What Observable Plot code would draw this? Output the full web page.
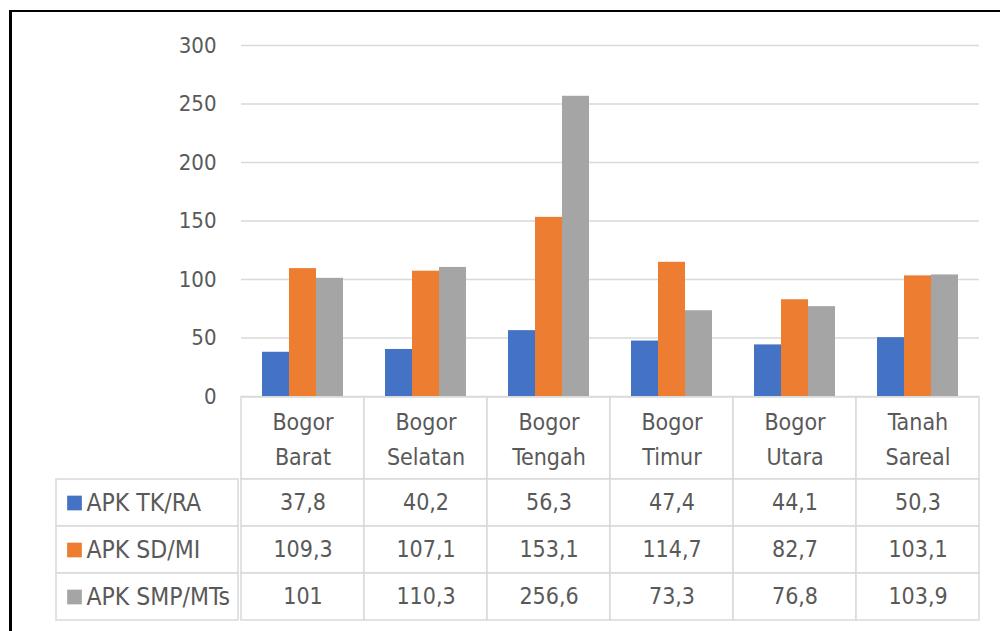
<!DOCTYPE html>
<html>
<head>
<meta charset="utf-8">
<script src="https://cdn.jsdelivr.net/npm/d3@7"></script>
<script src="https://cdn.jsdelivr.net/npm/@observablehq/plot@0.6"></script>
<style>
  html, body { margin: 0; padding: 0; background: #fff; width: 1000px; height: 631px; overflow: hidden; }
  #wrap { position: relative; width: 1000px; height: 631px; }
  #frame { position: absolute; left: 8.5px; top: 10px; width: 1100px; height: 700px; border-left: 3px solid #000; border-top: 2.5px solid #000; box-sizing: border-box; }
  .part { position: absolute; }
  svg { overflow: visible; }
</style>
</head>
<body>
<div id="wrap">
  <div id="frame"></div>
  <div class="part" id="chart" style="left:0;top:0"></div>
  <div class="part" id="header" style="left:238px;top:396px"></div>
  <div class="part" id="legend" style="left:0;top:478px"></div>
  <div class="part" id="rows" style="left:238px;top:478px"></div>
</div>
<script>
const categories = ["Bogor Barat", "Bogor Selatan", "Bogor Tengah", "Bogor Timur", "Bogor Utara", "Tanah Sareal"];
const seriesNames = ["APK TK/RA", "APK SD/MI", "APK SMP/MTs"];
const apkTK = [37.8, 40.2, 56.3, 47.4, 44.1, 50.3];
const apkSD = [109.3, 107.1, 153.1, 114.7, 82.7, 103.1];
const apkSMP = [101, 110.3, 256.6, 73.3, 76.8, 103.9];
const yTicks = [0, 50, 100, 150, 200, 250, 300];
const colors = ["#4472C4", "#ED7D31", "#A5A5A5"];

const seriesValues = [apkTK, apkSD, apkSMP];
const data = [];
categories.forEach((c, i) => seriesNames.forEach((s, j) => data.push({cat: c, series: s, value: seriesValues[j][i]})));
const fmt = v => String(v).replace(".", ",");

const FONT = '"Liberation Sans Narrow", "DejaVu Sans Condensed", "Liberation Sans", sans-serif';
const TXT = "#595959";
const LINE = "#d9d9d9";

const chart = Plot.plot({
  width: 1000, height: 397,
  marginLeft: 238, marginRight: 19, marginTop: 45, marginBottom: 1,
  style: {fontFamily: FONT, fontSize: "22px", color: TXT, background: "transparent"},
  fx: {domain: categories, padding: 0, axis: null, label: null},
  x: {domain: seriesNames, paddingInner: 0, paddingOuter: 0.745, axis: null, label: null},
  y: {domain: [0, 300], axis: null, label: null},
  color: {domain: seriesNames, range: colors},
  marks: [
    Plot.gridY(yTicks, {stroke: LINE, strokeOpacity: 1, strokeWidth: 1.5}),
    Plot.axisY(yTicks, {tickSize: 0, tickPadding: 25, fill: TXT, fontSize: 22, tickFormat: d => d, label: null}),
    Plot.barY(data, {fx: "cat", x: "series", y: "value", fill: "series"})
  ]
});
document.getElementById("chart").appendChild(chart);

const header = Plot.plot({
  width: 762, height: 84,
  marginLeft: 0, marginRight: 19, marginTop: 1, marginBottom: 1,
  style: {fontFamily: FONT, fontSize: "22px", background: "transparent"},
  x: {domain: categories, padding: 0, axis: null},
  marks: [
    Plot.cell(categories, {x: d => d, fill: "white", stroke: LINE, strokeWidth: 1.5}),
    Plot.text(categories, {x: d => d, text: d => d.replace(" ", "\n"), frameAnchor: "middle", lineHeight: 1.5, fill: TXT, fontSize: 23, dy: -2})
  ]
});
document.getElementById("header").appendChild(header);

const rows = Plot.plot({
  width: 762, height: 143,
  marginLeft: 0, marginRight: 19, marginTop: 1, marginBottom: 1,
  style: {fontFamily: FONT, fontSize: "22px", background: "transparent"},
  x: {domain: categories, padding: 0, axis: null},
  y: {domain: seriesNames, padding: 0, axis: null},
  marks: [
    Plot.cell(data, {x: "cat", y: "series", fill: "white", stroke: LINE, strokeWidth: 1.5}),
    Plot.text(data, {x: "cat", y: "series", text: d => fmt(d.value), fill: TXT, fontSize: 23})
  ]
});
document.getElementById("rows").appendChild(rows);

const legend = Plot.plot({
  width: 238, height: 143,
  marginLeft: 56, marginRight: 0, marginTop: 1, marginBottom: 1,
  style: {fontFamily: FONT, fontSize: "22px", background: "transparent"},
  y: {domain: seriesNames, padding: 0, axis: null},
  color: {domain: seriesNames, range: colors},
  marks: [
    Plot.cell(seriesNames, {y: d => d, fill: "white", stroke: LINE, strokeWidth: 1.5}),
    Plot.dot(seriesNames, {y: d => d, frameAnchor: "left", dx: 18, symbol: "square", r: 8.3, fill: d => d, stroke: "none"}),
    Plot.text(seriesNames, {y: d => d, text: d => d, frameAnchor: "left", dx: 30, textAnchor: "start", fill: TXT, fontSize: 24.5})
  ]
});
document.getElementById("legend").appendChild(legend);
</script>
</body>
</html>
